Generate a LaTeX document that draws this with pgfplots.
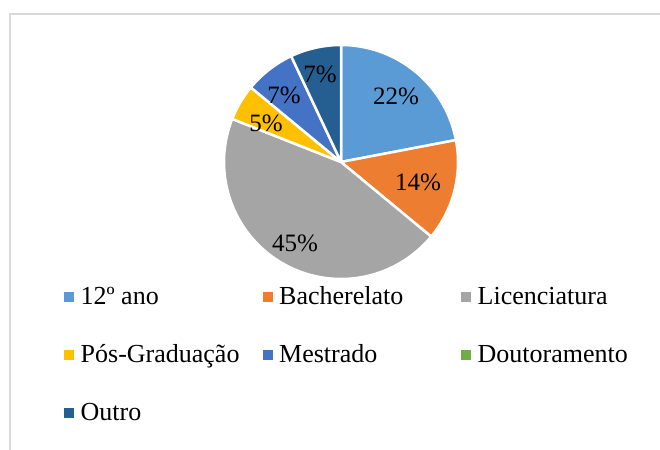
\documentclass[border=0pt]{standalone}
\usepackage{pgfplots}
\pgfplotsset{compat=1.18}
\usepackage{fontspec}
\setmainfont{Liberation Serif}
\definecolor{cA}{HTML}{5B9BD5}
\definecolor{cB}{HTML}{ED7D31}
\definecolor{cC}{HTML}{A5A5A5}
\definecolor{cD}{HTML}{FFC000}
\definecolor{cE}{HTML}{4472C4}
\definecolor{cF}{HTML}{70AD47}
\definecolor{cG}{HTML}{255E91}
\definecolor{frame}{HTML}{D9D9D9}
% percentages
\def\pA{22}\def\pB{14}\def\pC{45}\def\pD{5}\def\pE{7}\def\pF{0}\def\pG{7}
\pgfmathsetmacro\aA{90}
\pgfmathsetmacro\aB{\aA-3.6*\pA}
\pgfmathsetmacro\aC{\aB-3.6*\pB}
\pgfmathsetmacro\aD{\aC-3.6*\pC}
\pgfmathsetmacro\aE{\aD-3.6*\pD}
\pgfmathsetmacro\aF{\aE-3.6*\pE}
\pgfmathsetmacro\aG{\aF-3.6*\pF}
\pgfmathsetmacro\aH{\aG-3.6*\pG}
\def\R{117}
\newcommand{\lw}[1]{\makebox[182pt][l]{#1}}
\begin{document}
\begin{tikzpicture}
\useasboundingbox (0,0) rectangle (660pt,449pt);
\clip (0,0) rectangle (660pt,449pt);
\draw[frame, line width=2pt] (10pt,434.5pt) rectangle (720pt,-60pt);
\begin{axis}[
  x=1pt, y=1pt,
  xmin=-341, xmax=319, ymin=-287, ymax=162,
  at={(0pt,0pt)}, anchor=south west,
  hide axis, clip=false,
  legend columns=3,
  legend image code/.code={\fill[#1,draw=none] (0pt,-3pt) rectangle (10pt,7pt);},
  legend style={draw=none, fill=none, at={(axis cs:-280,-122)}, anchor=north west,
    font=\fontsize{26}{30}\selectfont,
    nodes={inner sep=0pt, text height=18pt, text depth=7pt},
    row sep=33pt,
    /tikz/every odd column/.style={column sep=6.5pt},
    legend cell align=left},
  every axis plot/.append style={draw=white, line width=2.5pt, line join=round},
]
\addplot[fill=cA, domain=\aB:\aA, samples=60] ({\R*cos(x)},{\R*sin(x)}) -- (0,0) -- cycle;
\addlegendentry{\lw{12º ano}}
\addplot[fill=cB, domain=\aC:\aB, samples=40] ({\R*cos(x)},{\R*sin(x)}) -- (0,0) -- cycle;
\addlegendentry{\lw{Bacherelato}}
\addplot[fill=cC, domain=\aD:\aC, samples=100] ({\R*cos(x)},{\R*sin(x)}) -- (0,0) -- cycle;
\addlegendentry{Licenciatura}
\addplot[fill=cD, domain=\aE:\aD, samples=20] ({\R*cos(x)},{\R*sin(x)}) -- (0,0) -- cycle;
\addlegendentry{\lw{Pós-Graduação}}
\addplot[fill=cE, domain=\aF:\aE, samples=25] ({\R*cos(x)},{\R*sin(x)}) -- (0,0) -- cycle;
\addlegendentry{\lw{Mestrado}}
\addlegendimage{fill=cF}
\addlegendentry{Doutoramento}
\addplot[fill=cG, domain=\aH:\aG, samples=25] ({\R*cos(x)},{\R*sin(x)}) -- (0,0) -- cycle;
\addlegendentry{\lw{Outro}}
\begin{scope}[every node/.style={font=\fontsize{25}{30}\selectfont, inner sep=0pt}]
\node at (axis cs:55,66) {22\%};
\node at (axis cs:77,-20) {14\%};
\node at (axis cs:-46,-81) {45\%};
\node at (axis cs:-75,39) {5\%};
\node at (axis cs:-57,67) {7\%};
\node at (axis cs:-21,88) {7\%};
\end{scope}
\end{axis}
\end{tikzpicture}
\end{document}
